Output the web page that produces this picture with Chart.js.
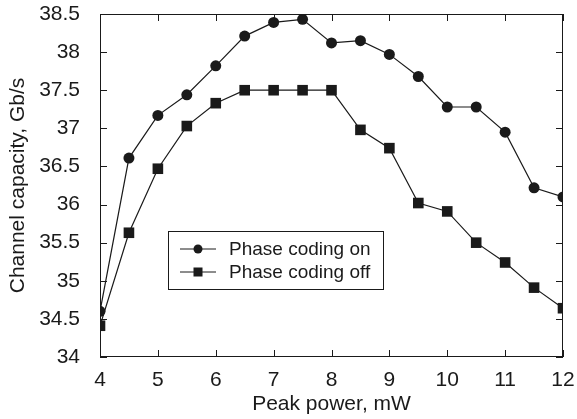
<!DOCTYPE html>
<html>
<head>
<meta charset="utf-8">
<script src="https://cdn.jsdelivr.net/npm/chart.js@4/dist/chart.umd.min.js"></script>
<style>
  html, body { margin: 0; padding: 0; background: #fff; }
  #wrap { width: 577px; height: 419px; }
</style>
</head>
<body>
<div id="wrap"><canvas id="capacityChart"></canvas></div>
<script>
const peakPower = [4, 4.5, 5, 5.5, 6, 6.5, 7, 7.5, 8, 8.5, 9, 9.5, 10, 10.5, 11, 11.5, 12];
const codingOn  = [34.60, 36.61, 37.17, 37.44, 37.82, 38.21, 38.39, 38.43, 38.12, 38.15, 37.97, 37.68, 37.28, 37.28, 36.95, 36.22, 36.10];
const codingOff = [34.41, 35.63, 36.47, 37.03, 37.33, 37.50, 37.50, 37.50, 37.50, 36.98, 36.74, 36.02, 35.91, 35.50, 35.24, 34.91, 34.64];
const seriesNames = ['Phase coding on', 'Phase coding off'];
const xTicks = [4, 5, 6, 7, 8, 9, 10, 11, 12];
const yTicks = [34, 34.5, 35, 35.5, 36, 36.5, 37, 37.5, 38, 38.5];

const ink = '#1a1a1a';
const font = "'Liberation Sans', Arial, Helvetica, sans-serif";

const toPoints = ys => peakPower.map((x, i) => ({ x: x, y: ys[i] }));

// frame, inward ticks and the boxed legend inside the plot
const framePlugin = {
    id: 'frame',
    afterDraw(chart) {
        const ctx = chart.ctx;
        const ca = chart.chartArea;
        const xs = chart.scales.x;
        const ys = chart.scales.y;
        const len = 7;
        ctx.save();
        ctx.strokeStyle = ink;
        ctx.lineWidth = 1;
        ctx.strokeRect(ca.left + 0.5, ca.top + 0.5, ca.right - ca.left - 1, ca.bottom - ca.top - 1);
        ctx.beginPath();
        xTicks.forEach(v => {
            const px = Math.round(xs.getPixelForValue(v)) + 0.5;
            ctx.moveTo(px, ca.bottom); ctx.lineTo(px, ca.bottom - len);
            ctx.moveTo(px, ca.top); ctx.lineTo(px, ca.top + len);
        });
        yTicks.forEach(v => {
            const py = Math.round(ys.getPixelForValue(v)) + 0.5;
            ctx.moveTo(ca.left, py); ctx.lineTo(ca.left + len, py);
            ctx.moveTo(ca.right, py); ctx.lineTo(ca.right - len, py);
        });
        ctx.stroke();

        // legend
        const bx = ca.left + 68, by = ca.top + 217, bw = 215, bh = 58;
        ctx.fillStyle = '#fff';
        ctx.fillRect(bx, by, bw, bh);
        ctx.strokeRect(bx + 0.5, by + 0.5, bw, bh);
        ctx.font = '19px ' + font;
        ctx.textBaseline = 'middle';
        chart.data.datasets.forEach((ds, i) => {
            const cy = by + 18 + i * 23;
            ctx.beginPath();
            ctx.moveTo(bx + 12, cy); ctx.lineTo(bx + 48, cy);
            ctx.stroke();
            ctx.fillStyle = ink;
            if (ds.pointStyle === 'rect') {
                ctx.fillRect(bx + 30 - 4.5, cy - 4.5, 9, 9);
            } else {
                ctx.beginPath();
                ctx.arc(bx + 30, cy, 4.5, 0, Math.PI * 2);
                ctx.fill();
            }
            ctx.fillText(ds.label, bx + 61, cy + 1);
        });
        ctx.restore();
    }
};

const ctx = document.getElementById('capacityChart').getContext('2d');
new Chart(ctx, {
    type: 'line',
    data: {
        datasets: [{
            label: seriesNames[0],
            data: toPoints(codingOn),
            borderColor: ink,
            borderWidth: 1.2,
            backgroundColor: ink,
            pointStyle: 'circle',
            pointRadius: 5.5,
            pointBorderWidth: 0,
            tension: 0
        }, {
            label: seriesNames[1],
            data: toPoints(codingOff),
            borderColor: ink,
            borderWidth: 1.2,
            backgroundColor: ink,
            pointStyle: 'rect',
            pointRadius: 7.5,
            pointBorderWidth: 0,
            tension: 0
        }]
    },
    plugins: [framePlugin],
    options: {
        responsive: true,
        maintainAspectRatio: false,
        animation: false,
        layout: { padding: { top: 14, right: 14, left: 0, bottom: 0 } },
        plugins: {
            legend: { display: false },
            tooltip: { enabled: false }
        },
        scales: {
            x: {
                type: 'linear',
                min: 4,
                max: 12,
                afterBuildTicks: s => { s.ticks = xTicks.map(v => ({ value: v })); },
                afterFit: s => { s.height = 62; s.paddingLeft = 0; s.paddingRight = 0; },
                grid: { display: false },
                border: { display: false },
                ticks: { color: ink, font: { family: font, size: 21 }, padding: 3 },
                title: {
                    display: true,
                    text: 'Peak power, mW',
                    color: ink,
                    font: { family: font, size: 21 },
                    padding: { top: 0, bottom: 2 }
                }
            },
            y: {
                type: 'linear',
                min: 34,
                max: 38.5,
                afterBuildTicks: s => { s.ticks = yTicks.map(v => ({ value: v })); },
                afterFit: s => { s.width = 100; s.paddingTop = 0; s.paddingBottom = 0; },
                grid: { display: false },
                border: { display: false },
                ticks: { color: ink, font: { family: font, size: 21 }, padding: 12, callback: v => String(v) },
                title: {
                    display: true,
                    text: 'Channel capacity, Gb/s',
                    color: ink,
                    font: { family: font, size: 21 },
                    padding: { top: 6, bottom: 0 }
                }
            }
        }
    }
});
</script>
</body>
</html>
